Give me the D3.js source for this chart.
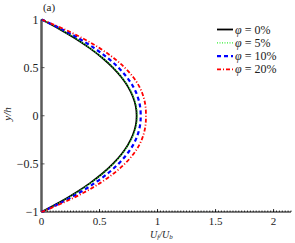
<!DOCTYPE html>
<html>
<head>
<meta charset="utf-8">
<script src="https://d3js.org/d3.v7.min.js"></script>
<style>
  body { margin: 0; background: #fff; }
</style>
</head>
<body>
<script>
// y/h positions and Uf/Ub values
var yPos = [-1, -0.9, -0.8, -0.7, -0.6, -0.5, -0.4, -0.3, -0.2, -0.1, 0,
            0.1, 0.2, 0.3, 0.4, 0.5, 0.6, 0.7, 0.8, 0.9, 1];
var phi0  = [0, 0.156, 0.295, 0.418, 0.525, 0.615, 0.689, 0.746, 0.787, 0.812, 0.82,
             0.812, 0.787, 0.746, 0.689, 0.615, 0.525, 0.418, 0.295, 0.156, 0];
var phi5  = [0, 0.160, 0.300, 0.423, 0.530, 0.620, 0.694, 0.751, 0.792, 0.817, 0.825,
             0.817, 0.792, 0.751, 0.694, 0.620, 0.530, 0.423, 0.300, 0.160, 0];
var phi10 = [0, 0.174, 0.326, 0.458, 0.570, 0.663, 0.736, 0.791, 0.828, 0.849, 0.855,
             0.849, 0.828, 0.791, 0.736, 0.663, 0.570, 0.458, 0.326, 0.174, 0];
var phi20 = [0, 0.194, 0.362, 0.504, 0.622, 0.717, 0.791, 0.844, 0.878, 0.896, 0.9,
             0.896, 0.878, 0.844, 0.791, 0.717, 0.622, 0.504, 0.362, 0.194, 0];
var legendLabels = ["0%", "5%", "10%", "20%"];
var xTicks = [0, 0.5, 1, 1.5, 2];
var yTicks = [-1, -0.5, 0, 0.5, 1];

var series = [
  { values: phi0,  color: "#000", width: 1.8, dash: null },
  { values: phi5,  color: "#33ee33", width: 1.2, dash: "1,1.5" },
  { values: phi10, color: "#0000ff", width: 2.2, dash: "4,3" },
  { values: phi20, color: "#ff0000", width: 1.8, dash: "4,2,1,2" }
];

var FONT = "'Liberation Serif', 'DejaVu Serif', serif";
var W = 295, H = 243;
var svg = d3.select("body").append("svg").attr("width", W).attr("height", H)
  .attr("font-family", FONT);

var x = d3.scaleLinear().domain([0, 2.15]).range([41.5, 291]);
var y = d3.scaleLinear().domain([-1, 1]).range([212, 19.5]);

// x axis: black line with dense minor ticks
var minor = d3.range(0, 2.151, 0.025);
svg.append("line").attr("x1", x(0)).attr("x2", x(2.15)).attr("y1", y(-1)).attr("y2", y(-1))
  .attr("stroke", "#000").attr("stroke-width", 1.2);
svg.selectAll(".minor").data(minor).enter().append("line")
  .attr("x1", function (d) { return x(d); }).attr("x2", function (d) { return x(d); })
  .attr("y1", y(-1)).attr("y2", y(-1) - 1.5)
  .attr("stroke", "#000").attr("stroke-width", 0.8);
svg.selectAll(".major").data(xTicks).enter().append("line")
  .attr("x1", function (d) { return x(d); }).attr("x2", function (d) { return x(d); })
  .attr("y1", y(-1)).attr("y2", y(-1) - 3)
  .attr("stroke", "#000").attr("stroke-width", 0.8);
svg.selectAll(".xl").data(xTicks).enter().append("text")
  .attr("x", function (d) { return x(d); }).attr("y", 225)
  .attr("text-anchor", "middle").attr("font-size", 11).attr("fill", "#222")
  .text(function (d) { return d; });

// y axis: thick grey spine with ticks to the right
svg.append("line").attr("x1", x(0)).attr("x2", x(0)).attr("y1", y(-1)).attr("y2", y(1))
  .attr("stroke", "#5a5a5a").attr("stroke-width", 2.5);
svg.selectAll(".yt").data(yTicks).enter().append("line")
  .attr("x1", x(0)).attr("x2", x(0) + 3)
  .attr("y1", function (d) { return y(d); }).attr("y2", function (d) { return y(d); })
  .attr("stroke", "#333").attr("stroke-width", 0.8);
svg.selectAll(".yl").data(yTicks).enter().append("text")
  .attr("x", 38.5).attr("y", function (d) { return y(d) + 4; })
  .attr("text-anchor", "end").attr("font-size", 12).attr("fill", "#222")
  .text(function (d) { return d < 0 ? "\u2212" + Math.abs(d) : d; });

// curves
var line = d3.line()
  .x(function (d) { return x(d[0]); })
  .y(function (d) { return y(d[1]); })
  .curve(d3.curveCatmullRom);
series.forEach(function (s) {
  svg.append("path")
    .attr("d", line(s.values.map(function (v, i) { return [v, yPos[i]]; })))
    .attr("fill", "none").attr("stroke", s.color).attr("stroke-width", s.width)
    .attr("stroke-dasharray", s.dash);
});

// labels
svg.append("text").attr("x", 150).attr("y", 237.5)
  .attr("font-size", 10).attr("font-style", "italic").attr("fill", "#222")
  .html("U<tspan font-size='7' dy='1.5'>f</tspan><tspan dy='-1.5'>/U</tspan><tspan font-size='7' dy='1.5'>b</tspan>");
svg.append("text").attr("transform", "translate(11,114) rotate(-90)").attr("text-anchor", "middle")
  .attr("font-size", 11).attr("font-style", "italic").attr("fill", "#222").text("y/h");
svg.append("text").attr("x", 49).attr("y", 11).attr("text-anchor", "middle")
  .attr("font-size", 11).attr("fill", "#222").text("(a)");

// legend
var lg = svg.append("g");
series.forEach(function (s, i) {
  var ly = 29.5 + i * 13.3;
  lg.append("line").attr("x1", 217).attr("x2", 233).attr("y1", ly).attr("y2", ly)
    .attr("stroke", s.color).attr("stroke-width", s.width).attr("stroke-dasharray", s.dash);
  lg.append("text").attr("x", 235).attr("y", ly + 4).attr("font-size", 12).attr("fill", "#222")
    .html("<tspan font-style='italic'>\u03c6</tspan> = " + legendLabels[i]);
});
</script>
</body>
</html>
